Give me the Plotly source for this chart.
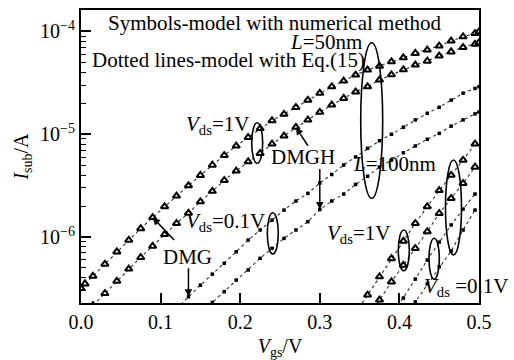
import math
import plotly.graph_objects as go

# Gate-voltage sample points (V)
VGS = [0.000, 0.005, 0.015, 0.030, 0.045, 0.060, 0.075, 0.090, 0.105, 0.120,
       0.135, 0.150, 0.165, 0.180, 0.195, 0.210, 0.225, 0.240, 0.255, 0.270,
       0.285, 0.300, 0.315, 0.330, 0.345, 0.360, 0.375, 0.390, 0.405, 0.420,
       0.435, 0.450, 0.465, 0.480, 0.495, 0.500]

# L = 50 nm, Vds = 1 V
I_DMG_1V_L50 = [3.17e-7, 3.51e-7, 4.17e-7, 5.46e-7, 7.19e-7, 9.35e-7, 1.21e-6, 1.55e-6,
                1.98e-6, 2.51e-6, 3.17e-6, 3.99e-6, 5.02e-6, 6.24e-6, 7.69e-6, 9.33e-6,
                1.14e-5, 1.36e-5, 1.57e-5, 1.83e-5, 2.15e-5, 2.51e-5, 2.90e-5, 3.30e-5,
                3.78e-5, 4.22e-5, 4.61e-5, 5.08e-5, 5.56e-5, 6.14e-5, 6.61e-5, 7.23e-5,
                8.09e-5, 8.89e-5, 9.59e-5, 9.95e-5]
I_DMGH_1V_L50 = [2.16e-7, 2.83e-7, 3.73e-7, 4.89e-7, 6.34e-7, 8.17e-7, 1.06e-6, 1.36e-6,
                 1.71e-6, 2.21e-6, 2.79e-6, 3.56e-6, 4.39e-6, 5.41e-6, 6.53e-6, 8.04e-6,
                 9.62e-6, 1.17e-5, 1.38e-5, 1.64e-5, 1.93e-5, 2.24e-5, 2.59e-5, 2.90e-5,
                 3.38e-5, 3.80e-5, 4.25e-5, 4.72e-5, 5.16e-5, 5.78e-5, 6.35e-5, 7.02e-5,
                 7.55e-5, 7.78e-5]
# L = 50 nm, Vds = 0.1 V
I_DMG_01V_L50 = [2.00e-7, 2.62e-7, 3.40e-7, 4.35e-7, 5.55e-7, 7.19e-7, 9.35e-7, 1.17e-6,
                 1.46e-6, 1.83e-6, 2.24e-6, 2.66e-6, 3.36e-6, 4.06e-6, 5.02e-6, 6.01e-6,
                 7.30e-6, 8.65e-6, 1.00e-5, 1.17e-5, 1.38e-5, 1.60e-5, 1.83e-5, 2.15e-5,
                 2.51e-5, 2.79e-5, 2.90e-5]
I_DMGH_01V_L50 = [1.80e-7, 2.31e-7, 2.94e-7, 3.81e-7, 4.78e-7, 6.21e-7, 7.76e-7, 9.70e-7,
                  1.17e-6, 1.41e-6, 1.85e-6, 2.24e-6, 2.62e-6, 3.25e-6, 3.90e-6, 4.80e-6,
                  5.61e-6, 6.61e-6, 7.69e-6, 8.93e-6, 1.02e-5, 1.20e-5, 1.38e-5, 1.58e-5,
                  1.65e-5]
# L = 100 nm, Vds = 1 V
I_DMG_1V_L100 = [1.82e-7, 2.73e-7, 4.11e-7, 6.18e-7, 9.14e-7, 1.36e-6, 1.98e-6, 2.84e-6,
                 4.01e-6, 5.61e-6, 8.04e-6]
I_DMGH_1V_L100 = [1.60e-7, 2.44e-7, 3.67e-7, 5.33e-7, 7.76e-7, 1.13e-6, 1.70e-6, 2.38e-6,
                  3.33e-6, 4.80e-6]
# L = 100 nm, Vds = 0.1 V
I_DMG_01V_L100 = [1.70e-7, 2.55e-7, 3.90e-7, 5.97e-7, 8.93e-7, 1.31e-6, 1.87e-6, 2.62e-6]
I_DMGH_01V_L100 = [1.60e-7, 2.34e-7, 3.49e-7, 5.14e-7, 7.31e-7, 1.17e-6, 1.83e-6]


def tail(values):
    """Gate voltages aligned with the last len(values) points of a curve."""
    return VGS[len(VGS) - len(values):]


def tail_before_end(values):
    """Gate voltages ending at 0.495 V (curves without a 0.5 V point)."""
    grid = VGS[:-1]
    return grid[len(grid) - len(values):]


FONT = "Liberation Serif"
TRI = dict(symbol="triangle-up", size=6.5, color="white", line=dict(color="black", width=2))
DOT = dict(symbol="square", size=3.5, color="black", line=dict(width=0))
LINE = dict(color="#333333", width=1.1, dash="dot")

curves = [
    (VGS, I_DMG_1V_L50, TRI),
    (tail(I_DMGH_1V_L50), I_DMGH_1V_L50, TRI),
    (tail(I_DMG_01V_L50), I_DMG_01V_L50, DOT),
    (tail(I_DMGH_01V_L50), I_DMGH_01V_L50, DOT),
    (tail_before_end(I_DMG_1V_L100), I_DMG_1V_L100, TRI),
    (tail_before_end(I_DMGH_1V_L100), I_DMGH_1V_L100, TRI),
    (tail_before_end(I_DMG_01V_L100), I_DMG_01V_L100, DOT),
    (tail_before_end(I_DMGH_01V_L100), I_DMGH_01V_L100, DOT),
]

fig = go.Figure()
for xs, ys, mk in curves:
    fig.add_trace(go.Scatter(x=xs, y=ys, mode="lines+markers", line=LINE,
                             marker=mk, showlegend=False, cliponaxis=True))

Y_RANGE = [-6.642, -3.791]
minor_vals = [m * 10.0 ** e for e in (-7, -6, -5) for m in range(2, 10)]
TICKFONT = dict(family=FONT, size=20, color="black")

fig.update_layout(
    width=514, height=360,
    margin=dict(l=81, r=35, t=10, b=57),
    paper_bgcolor="white", plot_bgcolor="white",
    font=dict(family=FONT, size=20, color="black"),
    xaxis=dict(range=[0, 0.5], tickvals=[0, 0.1, 0.2, 0.3, 0.4, 0.5],
               ticktext=["0.0", "0.1", "0.2", "0.3", "0.4", "0.5"],
               tickfont=TICKFONT, automargin=False,
               ticks="inside", ticklen=10, tickwidth=1.5, tickcolor="black",
               showline=True, linewidth=2, linecolor="black", mirror=True,
               showgrid=False, zeroline=False,
               title=dict(text="<i>V</i><sub>gs</sub>/V", standoff=10,
                          font=dict(family=FONT, size=20))),
    yaxis=dict(type="log", range=Y_RANGE,
               tickvals=[1e-6, 1e-5, 1e-4],
               ticktext=["10<sup>−6</sup>", "10<sup>−5</sup>", "10<sup>−4</sup>"],
               tickfont=TICKFONT, automargin=False,
               ticks="inside", ticklen=10, tickwidth=1.5, tickcolor="black",
               minor=dict(tickvals=minor_vals, ticks="inside", ticklen=5,
                          tickwidth=1.3, tickcolor="black", showgrid=False),
               showline=True, linewidth=2, linecolor="black", mirror=True,
               showgrid=False, zeroline=False,
               title=dict(text="<i>I</i><sub>sub</sub>/A", standoff=6,
                          font=dict(family=FONT, size=20))),
)


def text(x, ylog, s, anchor="center"):
    fig.add_annotation(x=x, y=ylog, xref="x", yref="y", text=s, showarrow=False,
                       xanchor=anchor, yanchor="middle",
                       font=dict(family=FONT, size=21, color="black"))


text(0.0314, -3.917, "Symbols-model with numerical method", "left")
text(0.0113, -4.277, "Dotted lines-model with Eq.(15)", "left")
text(0.308, -4.102, "<i>L</i>=50nm")
text(0.172, -4.910, "<i>V</i><sub>ds</sub>=1V")
text(0.2785, -5.218, "DMGH")
text(0.394, -5.290, "<i>L</i>=100nm")
text(0.181, -5.851, "<i>V</i><sub>ds</sub>=0.1V")
text(0.134, -6.195, "DMG")
text(0.348, -5.971, "<i>V</i><sub>ds</sub>=1V")
text(0.4837, -6.487, "<i>V</i><sub>ds</sub> =0.1V")


def arrow(x, value, ax, ay):
    fig.add_annotation(x=x, y=math.log10(value), xref="x", yref="y", text="",
                       showarrow=True, ax=ax, ay=ay, arrowhead=2, arrowsize=1,
                       arrowwidth=1.5, arrowcolor="black", standoff=0)


arrow(0.090, I_DMG_1V_L50[VGS.index(0.090)], 23, 24)
arrow(0.270, I_DMGH_1V_L50[tail(I_DMGH_1V_L50).index(0.270)], 13, 20)
arrow(0.135, I_DMG_01V_L50[tail(I_DMG_01V_L50).index(0.135)], 0, -30)
arrow(0.300, I_DMGH_01V_L50[tail(I_DMGH_01V_L50).index(0.300)], 0, -42)

# Ellipses grouping the curves (paper coordinates of the plot frame)
ellipses = [
    (0.4289, 0.4565, 0.4768, 0.6154),
    (0.7028, 0.7580, 0.3573, 0.8884),
    (0.4681, 0.4957, 0.1672, 0.3082),
    (0.7972, 0.8249, 0.1102, 0.2491),
    (0.8744, 0.9003, 0.0809, 0.2208),
    (0.9158, 0.9560, 0.1638, 0.4881),
]
for x0, x1, y0, y1 in ellipses:
    fig.add_shape(type="circle", xref="paper", yref="paper", x0=x0, x1=x1, y0=y0, y1=y1,
                  line=dict(color="black", width=1.6))

fig.write_html("out.html")
